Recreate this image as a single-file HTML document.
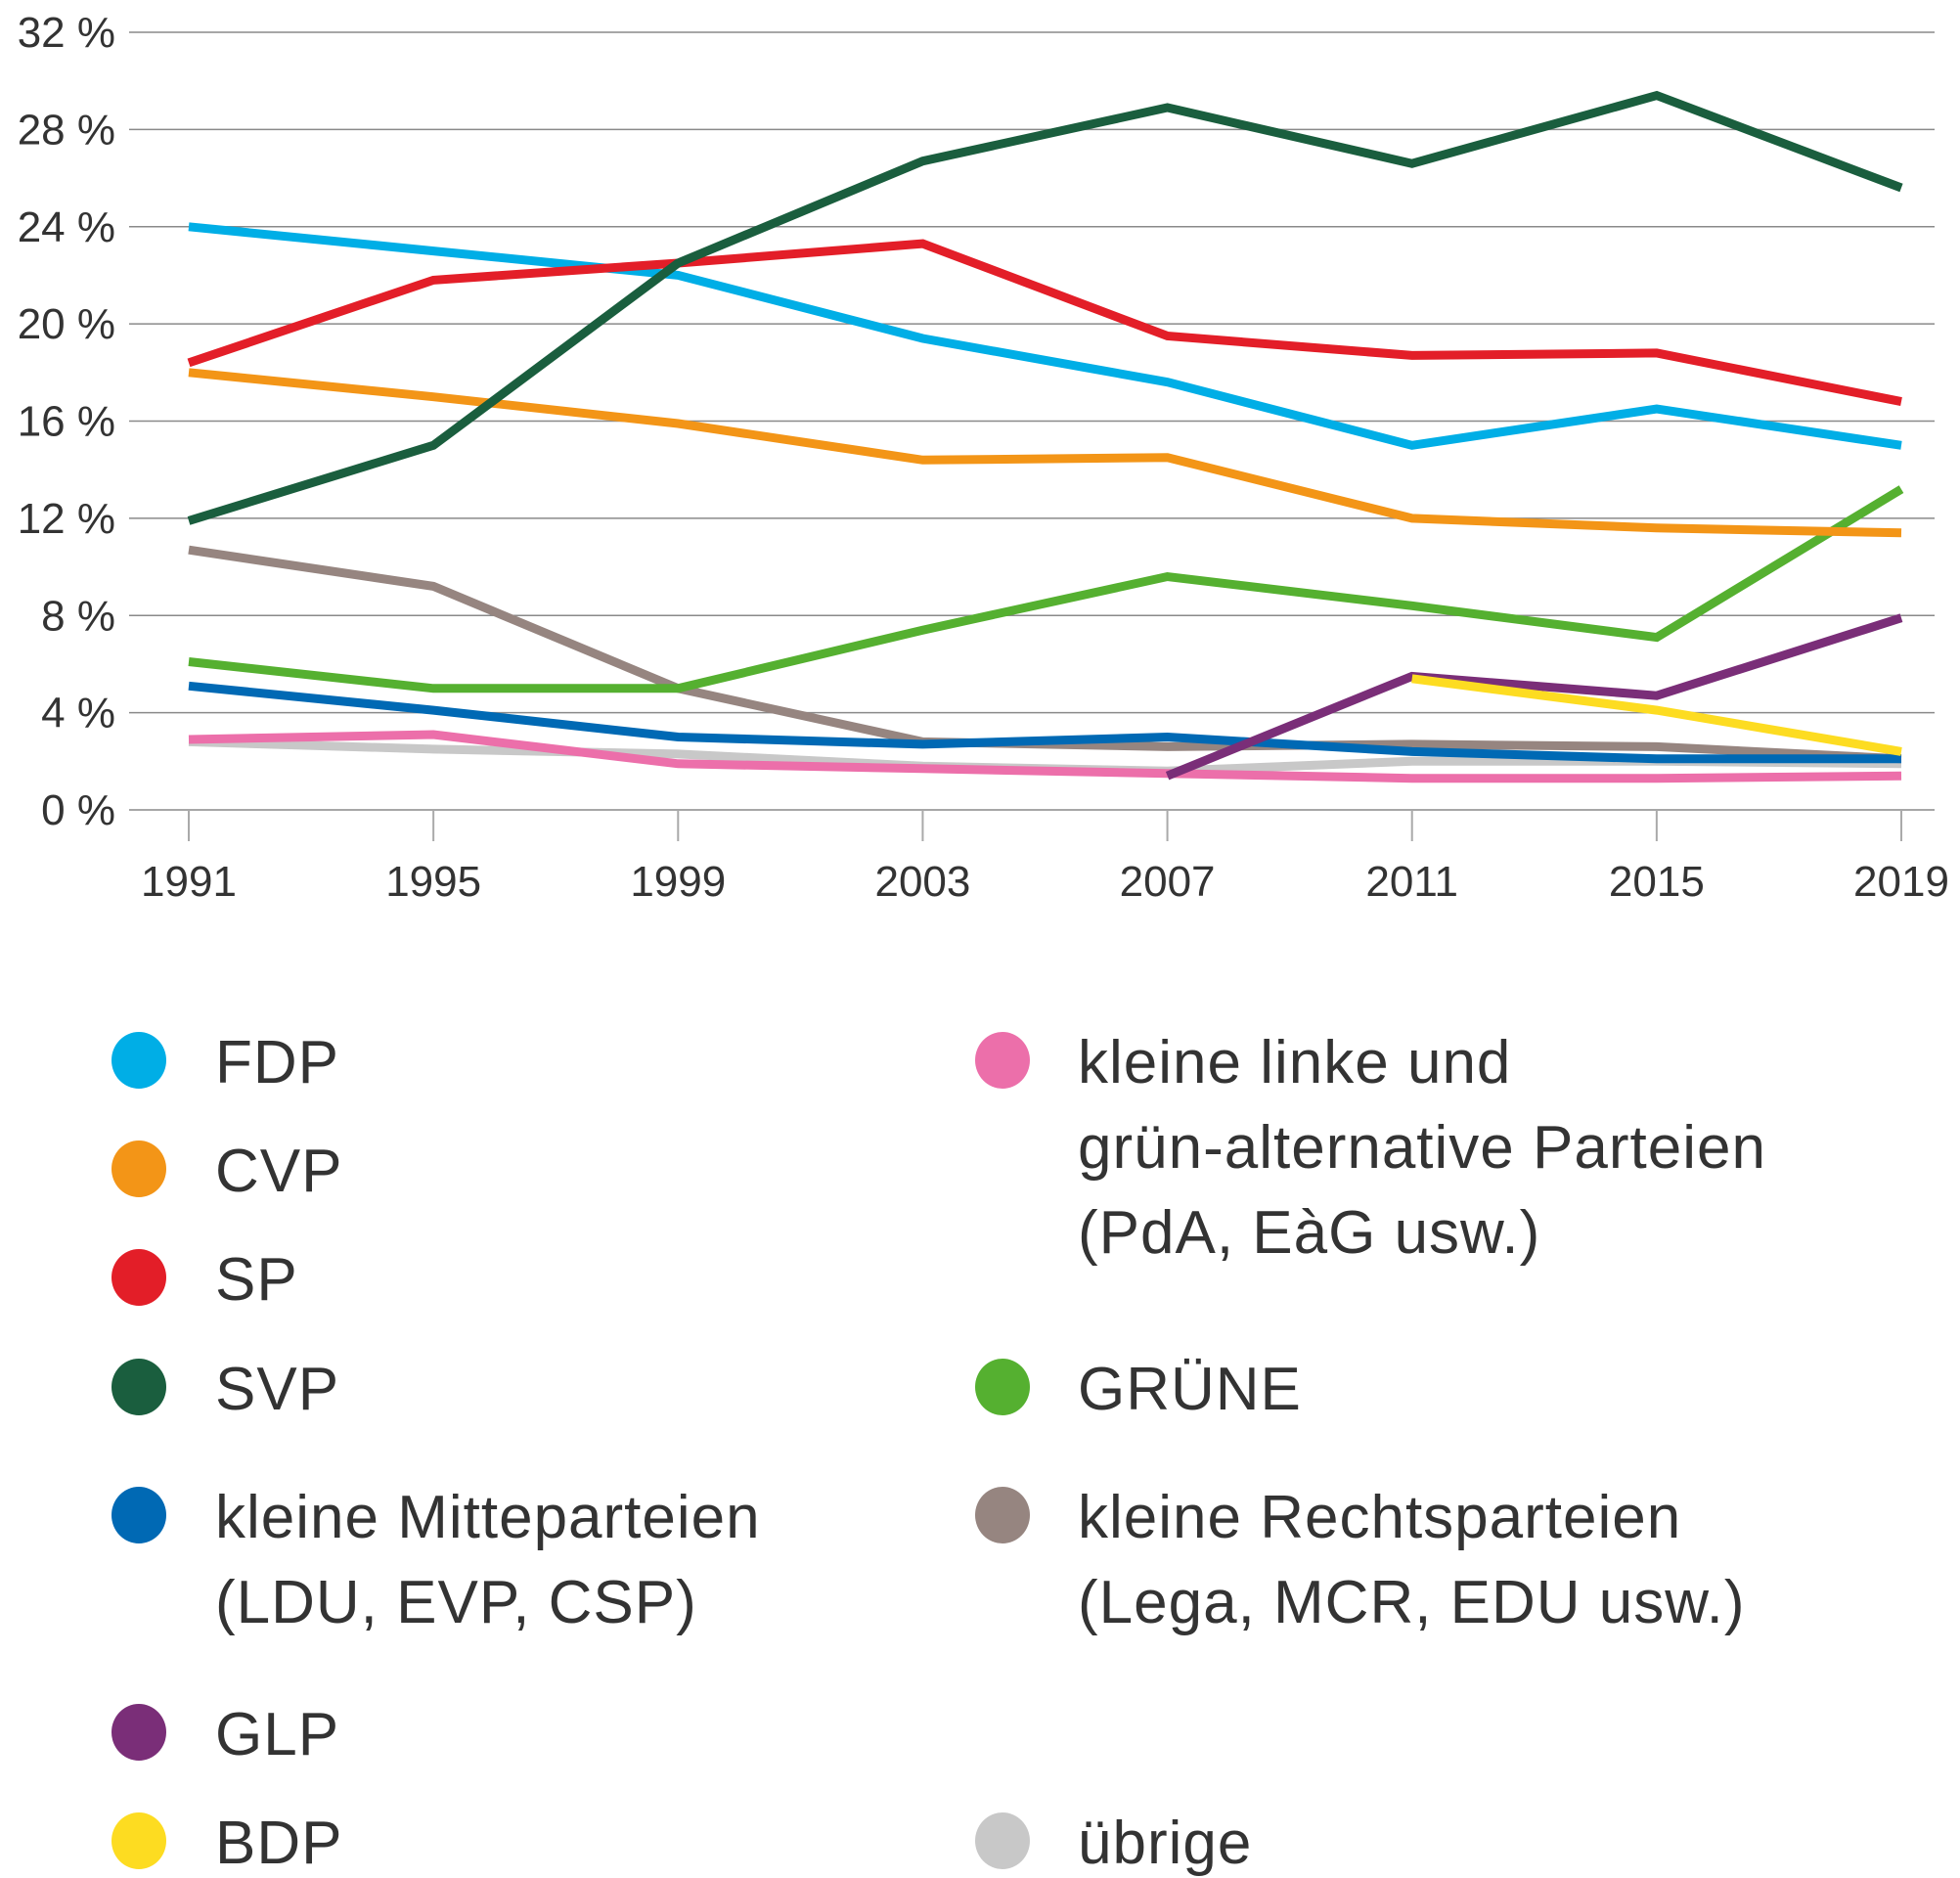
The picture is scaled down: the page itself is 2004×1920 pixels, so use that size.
<!DOCTYPE html>
<html><head><meta charset="utf-8"><style>
html,body{margin:0;padding:0;background:#fff;}
body{width:2004px;height:1920px;overflow:hidden;position:relative;font-family:"Liberation Sans",sans-serif;color:#333;}
svg{position:absolute;left:0;top:0;}
</style></head><body>
<svg id="chart" width="2004" height="1920" xmlns="http://www.w3.org/2000/svg"></svg>
<script>
const years = [1991,1995,1999,2003,2007,2011,2015,2019];
const yTicks = [0,4,8,12,16,20,24,28,32];
const yTickLabels = ["0  %","4  %","8  %","12 %","16 %","20 %","24 %","28 %","32 %"];
const uebrige = [2.8,2.5,2.3,1.8,1.6,2.0,2.0,1.9];
const linke = [2.9,3.1,1.9,1.7,1.5,1.3,1.3,1.4];
const rechts = [10.7,9.2,5.0,2.8,2.6,2.7,2.6,2.1];
const mitte = [5.1,4.1,3.0,2.7,3.0,2.4,2.1,2.1];
const gruene = [6.1,5.0,5.0,7.4,9.6,8.4,7.1,13.2];
const glp = [null,null,null,null,1.4,5.5,4.7,7.9];
const bdp = [null,null,null,null,null,5.4,4.1,2.4];
const cvp = [18.0,17.0,15.9,14.4,14.5,12.0,11.6,11.4];
const fdp = [24.0,23.0,22.0,19.4,17.6,15.0,16.5,15.0];
const sp = [18.4,21.8,22.5,23.3,19.5,18.7,18.8,16.8];
const svp = [11.9,15.0,22.5,26.7,28.9,26.6,29.4,25.6];

const NS="http://www.w3.org/2000/svg";
const svg=document.getElementById('chart');
const x0=193,x1=1944,yBase=828,yTop=33;
function xPos(i){return x0+(x1-x0)*i/(years.length-1);}
function yPos(v){return yBase-(yBase-yTop)*v/32;}
function mk(tag,attrs){const e=document.createElementNS(NS,tag);for(const k in attrs)e.setAttribute(k,attrs[k]);svg.appendChild(e);return e;}

yTicks.forEach((t,i)=>{
  const l=mk('line',{x1:132,x2:1978,y1:yPos(t),y2:yPos(t),stroke:'#8a8a8a','stroke-width':1.6});
  
  
  const tx=mk('text',{x:118,y:yPos(t)+15,'text-anchor':'end','font-size':44,fill:'#333','xml:space':'preserve'});
  tx.textContent=yTickLabels[i];
  
  
});
years.forEach((yr,i)=>{
  const l=mk('line',{x1:xPos(i),x2:xPos(i),y1:yBase,y2:yBase+32,stroke:'#aaa','stroke-width':2});
  
  
  const tx=mk('text',{x:xPos(i),y:916,'text-anchor':'middle','font-size':44,fill:'#333'});
  tx.textContent=yr;
  
  
});
const series=[["uebrige",uebrige,"#c8c8c8"],["linke",linke,"#ec6faa"],["rechts",rechts,"#968580"],["mitte",mitte,"#0069b4"],["gruene",gruene,"#55b030"],["glp",glp,"#7a2e78"],["bdp",bdp,"#fddc21"],["cvp",cvp,"#f39517"],["fdp",fdp,"#00aee6"],["sp",sp,"#e31e28"],["svp",svp,"#1a5e3e"]];
series.forEach(([n,d,c])=>{
  const pts=[];d.forEach((v,i)=>{if(v!==null)pts.push(xPos(i).toFixed(1)+','+yPos(v).toFixed(1));});
  const p=mk('polyline',{points:pts.join(' '),fill:'none',stroke:c,'stroke-width':9,'stroke-linejoin':'miter'});
  
  
});

const legend=[
 [142,220,1084,"#00aee6",["FDP"]],
 [142,220,1195,"#f39517",["CVP"]],
 [142,220,1306,"#e31e28",["SP"]],
 [142,220,1418,"#1a5e3e",["SVP"]],
 [142,220,1549,"#0069b4",["kleine Mitteparteien","(LDU, EVP, CSP)"]],
 [142,220,1771,"#7a2e78",["GLP"]],
 [142,220,1882,"#fddc21",["BDP"]],
 [1025,1102,1084,"#ec6faa",["kleine linke und","grün-alternative Parteien","(PdA, EàG usw.)"]],
 [1025,1102,1418,"#55b030",["GRÜNE"]],
 [1025,1102,1549,"#968580",["kleine Rechtsparteien","(Lega, MCR, EDU usw.)"]],
 [1025,1102,1882,"#c8c8c8",["übrige"]]
];
legend.forEach(([cx,tx,cy,c,lines])=>{
  const g=document.createElementNS(NS,'g');svg.appendChild(g);
  
  
  const ci=document.createElementNS(NS,'ellipse');
  ci.setAttribute('cx',cx);ci.setAttribute('cy',cy);ci.setAttribute('rx',28);ci.setAttribute('ry',29);ci.setAttribute('fill',c);
  
  
  g.appendChild(ci);
  lines.forEach((s,i)=>{
    const t=document.createElementNS(NS,'text');
    t.setAttribute('x',tx);t.setAttribute('y',cy+23+i*87);t.setAttribute('font-size',62);t.setAttribute('fill','#333');t.setAttribute('letter-spacing','1');
    t.textContent=s;
    
    
    g.appendChild(t);
  });
});
</script>
</body></html>
